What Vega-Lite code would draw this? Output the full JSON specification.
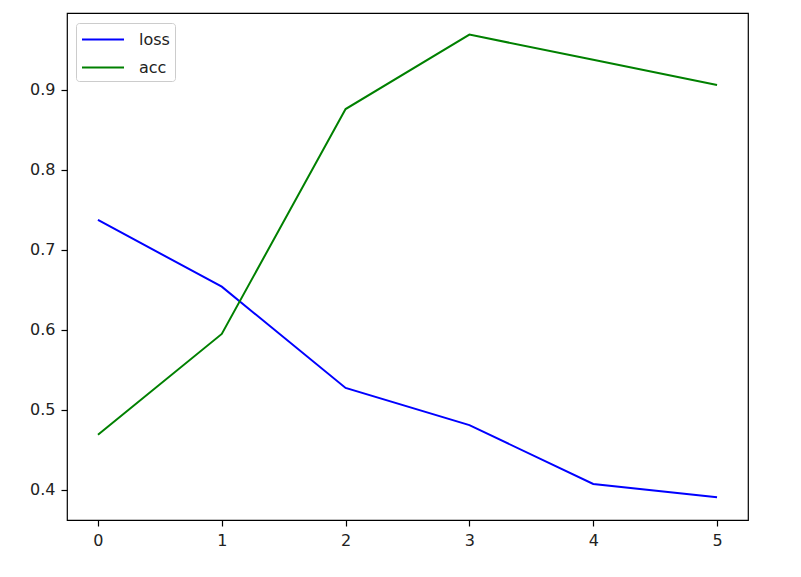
{
  "$schema": "https://vega.github.io/schema/vega-lite/v6.json",
  "width": 681,
  "height": 507,
  "autosize": {"type": "none"},
  "padding": {"left": 67, "top": 13, "right": 53, "bottom": 57},
  "background": "white",
  "config": {
    "view": {"stroke": "black", "strokeWidth": 1.2},
    "font": "DejaVu Sans",
    "axis": {
      "grid": false,
      "domain": false,
      "tickColor": "black",
      "tickSize": 6,
      "tickWidth": 1.2,
      "labelFont": "DejaVu Sans",
      "labelFontSize": 16,
      "labelColor": "#222222",
      "labelPadding": 6,
      "title": null
    }
  },
  "data": {
    "values": [
      {"epoch": 0, "series": "loss", "value": 0.7375},
      {"epoch": 1, "series": "loss", "value": 0.654},
      {"epoch": 2, "series": "loss", "value": 0.5275},
      {"epoch": 3, "series": "loss", "value": 0.481},
      {"epoch": 4, "series": "loss", "value": 0.4075},
      {"epoch": 5, "series": "loss", "value": 0.391},
      {"epoch": 0, "series": "acc", "value": 0.469},
      {"epoch": 1, "series": "acc", "value": 0.595},
      {"epoch": 2, "series": "acc", "value": 0.876},
      {"epoch": 3, "series": "acc", "value": 0.969},
      {"epoch": 4, "series": "acc", "value": 0.9375},
      {"epoch": 5, "series": "acc", "value": 0.906}
    ]
  },
  "mark": {"type": "line", "strokeWidth": 2, "clip": true},
  "encoding": {
    "x": {
      "field": "epoch",
      "type": "quantitative",
      "scale": {"domain": [-0.25, 5.25], "nice": false, "zero": false},
      "axis": {"values": [0, 1, 2, 3, 4, 5], "format": "d", "orient": "bottom"}
    },
    "y": {
      "field": "value",
      "type": "quantitative",
      "scale": {"domain": [0.3625, 0.996], "nice": false, "zero": false},
      "axis": {"values": [0.4, 0.5, 0.6, 0.7, 0.8, 0.9], "format": ".1f"}
    },
    "color": {
      "field": "series",
      "type": "nominal",
      "sort": ["loss", "acc"],
      "scale": {"domain": ["loss", "acc"], "range": ["#0000ff", "#008000"]},
      "legend": {
        "title": null,
        "orient": "none",
        "legendX": 9,
        "legendY": 10,
        "symbolType": "M-1,0H3",
        "symbolSize": 441,
        "symbolStrokeWidth": 2,
        "symbolFillColor": "transparent",
        "labelFontSize": 16,
        "labelFont": "DejaVu Sans",
        "labelColor": "#222222",
        "labelOffset": 35,
        "rowPadding": 8,
        "padding": 5,
        "fillColor": "white",
        "strokeColor": "#cccccc",
        "cornerRadius": 3
      }
    }
  }
}
